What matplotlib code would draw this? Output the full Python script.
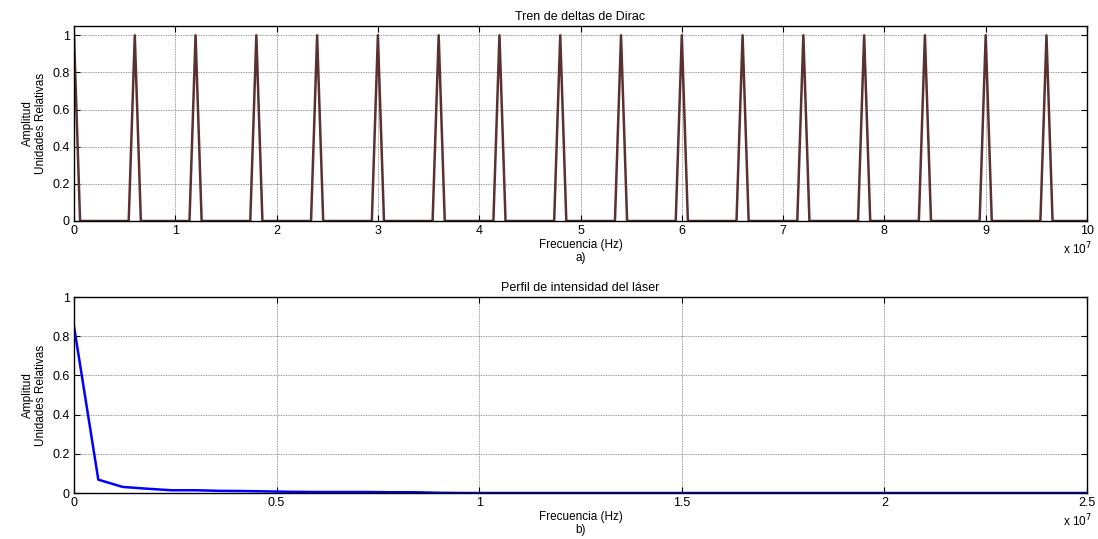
import numpy as np
import matplotlib
matplotlib.use("Agg")
import matplotlib.pyplot as plt
from matplotlib.ticker import FuncFormatter

# ---- data ----
# Dirac train: sample grid step (Hz) and peak frequencies (Hz)
train_step = 6e5
train_nsamples = 168
peak_freqs = [0, 6e6, 12e6, 18e6, 24e6, 30e6, 36e6, 42e6, 48e6, 54e6,
              60e6, 66e6, 72e6, 78e6, 84e6, 90e6, 96e6]
peak_amp = 1.0

# Laser intensity profile (step 6e5 Hz)
profile_step = 6e5
profile_vals = [0.85, 0.068, 0.031, 0.022, 0.014, 0.014, 0.011, 0.010, 0.008,
                0.006, 0.005, 0.005, 0.005, 0.004, 0.004, 0.001, 0.0, 0.0, 0.0,
                0.0, 0.0, 0.0, 0.0, 0.0, 0.0, 0.0, 0.0, 0.0, 0.0, 0.0, 0.0,
                0.0, 0.0, 0.0, 0.0, 0.0, 0.0, 0.0, 0.0, 0.0, 0.0, 0.0, 0.0]

top_xticks = [0, 1e7, 2e7, 3e7, 4e7, 5e7, 6e7, 7e7, 8e7, 9e7, 10e7]
bot_xticks = [0, 0.5e7, 1e7, 1.5e7, 2e7, 2.5e7]
yticks = [0, 0.2, 0.4, 0.6, 0.8, 1.0]

# ---- build series ----
train_f = np.arange(train_nsamples) * train_step
train_y = np.zeros(train_nsamples)
for pf in peak_freqs:
    train_y[np.argmin(np.abs(train_f - pf))] = peak_amp
prof_f = np.arange(len(profile_vals)) * profile_step
prof_y = np.array(profile_vals)

plt.rcParams['font.family'] = ['Liberation Sans', 'DejaVu Sans']
narrow = ['Liberation Sans Narrow', 'Liberation Sans', 'DejaVu Sans']

fig = plt.figure(figsize=(10.98, 5.39), dpi=100)
W, H = 1098, 539
def rect(l, t, r, b):
    return [l / W, 1 - b / H, (r - l) / W, (b - t) / H]

ax1 = fig.add_axes(rect(74, 26, 1087, 221))
ax2 = fig.add_axes(rect(74, 297, 1087, 493))

fmt = FuncFormatter(lambda v, p: ('%g' % (v / 1e7)))
yfmt = FuncFormatter(lambda v, p: ('%g' % round(v, 2)))

def style(ax, xticks, xmax, ymax):
    ax.set_xlim(0, xmax)
    ax.set_ylim(0, ymax)
    ax.set_xticks(xticks)
    ax.set_yticks(yticks)
    ax.xaxis.set_major_formatter(fmt)
    ax.yaxis.set_major_formatter(yfmt)
    ax.tick_params(direction='in', length=4, width=0.8, top=True, right=True,
                   labelsize=9, pad=3, colors='black')
    ax.grid(True, color='#7a7a7a', linestyle=(0, (1, 1)), linewidth=0.6)
    ax.set_axisbelow(True)
    for s in ax.spines.values():
        s.set_linewidth(1.0)
        s.set_color('black')
    ax.set_ylabel('Amplitud\nUnidades Relativas', fontsize=8.5, family=narrow,
                  linespacing=1.1, labelpad=4)

ax1.plot(train_f, train_y, color='#5a3030', lw=1.8)
style(ax1, top_xticks, 1e8, 1.05)
ax1.set_title('Tren de deltas de Dirac', fontsize=9, family=narrow, pad=4)
ax1.set_xlabel('Frecuencia (Hz)\na)', fontsize=8.5, labelpad=1, linespacing=1.15)
fig.text(1077 / W, 1 - 249 / H, r'x 10$^{7}$', fontsize=8.5, ha='center', va='center')

ax2.plot(prof_f, prof_y, color='#0000ff', lw=1.8)
style(ax2, bot_xticks, 2.5e7, 1.0)
ax2.set_title('Perfil de intensidad del láser', fontsize=9, family=narrow, pad=4)
ax2.set_xlabel('Frecuencia (Hz)\nb)', fontsize=8.5, labelpad=1, linespacing=1.15)
fig.text(1077 / W, 1 - 521 / H, r'x 10$^{7}$', fontsize=8.5, ha='center', va='center')

fig.savefig('out.png', dpi=100, facecolor='white')
